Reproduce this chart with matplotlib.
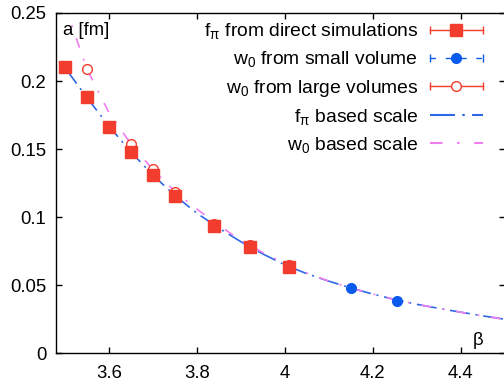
import matplotlib
matplotlib.use("Agg")
import matplotlib.pyplot as plt
from matplotlib.legend_handler import HandlerBase
from matplotlib.lines import Line2D

plt.rcParams["font.family"] = ["Liberation Sans", "DejaVu Sans"]
plt.rcParams["font.size"] = 13.3
plt.rcParams["mathtext.fontset"] = "custom"
plt.rcParams["mathtext.rm"] = "Liberation Sans"
plt.rcParams["mathtext.it"] = "Liberation Sans:italic"

# data
beta_fpi = [3.5, 3.55, 3.6, 3.65, 3.7, 3.75, 3.84, 3.92, 4.01]
a_fpi = [0.2104, 0.1884, 0.1664, 0.148, 0.1309, 0.1157, 0.0935, 0.0778, 0.0631]

beta_w0_small = [4.15, 4.255]
a_w0_small = [0.0478, 0.0386]

beta_w0_large = [3.55, 3.65, 3.7, 3.75, 3.84, 3.92, 4.01]
a_w0_large = [0.2088, 0.1537, 0.1353, 0.1186, 0.0952, 0.0794, 0.0649]
err_w0_large = [0.0008, 0.0008, 0.0008, 0.0008, 0.0008, 0.0008, 0.0008]

beta_curve = [3.5, 3.55, 3.6, 3.65, 3.7, 3.75, 3.8, 3.85, 3.9, 3.95, 4.0,
              4.05, 4.1, 4.15, 4.2, 4.25, 4.3, 4.35, 4.4, 4.45, 4.5]
a_fpi_curve = [0.210, 0.188, 0.167, 0.148, 0.131, 0.116, 0.103, 0.092, 0.082, 0.073, 0.065,
               0.0585, 0.053, 0.048, 0.0435, 0.0395, 0.036, 0.033, 0.0302, 0.0275, 0.025]
a_w0_curve = [0.256, 0.209, 0.177, 0.154, 0.135, 0.119, 0.106, 0.094, 0.083, 0.074, 0.066,
              0.059, 0.053, 0.048, 0.0435, 0.0395, 0.036, 0.033, 0.0302, 0.0275, 0.025]

x_ticks = [3.6, 3.8, 4.0, 4.2, 4.4]
x_tick_labels = ["3.6", "3.8", "4", "4.2", "4.4"]
y_ticks = [0, 0.05, 0.1, 0.15, 0.2, 0.25]
y_tick_labels = ["0", "0.05", "0.1", "0.15", "0.2", "0.25"]

RED = "#f23c2d"
BLUE = "#0a5aeb"
BLUE_LINE = "#2f68e6"
PINK = "#f07ef0"

DASH_DOT_BLUE = (0, (12, 3.5, 1.2, 3.5))
DASH_DOT_PINK = (0, (6, 7, 1.2, 7))


class GnuErrorKey(HandlerBase):
    # gnuplot-like key: horizontal bar with caps and marker in the middle
    def __init__(self, ls="-", **kw):
        super().__init__(**kw)
        self.ls = ls

    def create_artists(self, legend, orig_handle, xdescent, ydescent, width, height, fontsize, trans):
        y = height / 2 - ydescent
        x0, x1 = -xdescent, width - xdescent
        c = orig_handle.get_markeredgecolor()
        bar = Line2D([x0, x1], [y, y], color=c, lw=1, ls=self.ls)
        caps = Line2D([x0, x1], [y, y], ls="none", marker="|", ms=6, mew=1, color=c)
        mk = Line2D([(x0 + x1) / 2], [y], ls="none", marker=orig_handle.get_marker(),
                    ms=orig_handle.get_markersize(), mfc=orig_handle.get_markerfacecolor(),
                    mec=c, mew=orig_handle.get_markeredgewidth())
        for a in (bar, caps, mk):
            a.set_transform(trans)
        return [bar, caps, mk]


fig = plt.figure(figsize=(5.04, 3.88), dpi=100)
ax = fig.add_axes([0.1111, 0.0894, 0.8905, 0.8771])

ax.plot(beta_curve, a_fpi_curve, color=BLUE_LINE, lw=1.2, ls=DASH_DOT_BLUE, zorder=2)
ax.plot(beta_curve, a_w0_curve, color=PINK, lw=1.2, ls=DASH_DOT_PINK, zorder=2)

ax.errorbar(beta_w0_large, a_w0_large, yerr=err_w0_large, fmt="o", ms=7, mfc="white",
            mec=RED, mew=1, ecolor=RED, elinewidth=1, capsize=3, capthick=1, zorder=3)
ax.plot(beta_fpi, a_fpi, ls="none", marker="s", ms=8, color=RED, mec=RED, zorder=4)
ax.plot(beta_w0_small, a_w0_small, ls="none", marker="o", ms=7, color=BLUE, mec=BLUE, zorder=4)

ax.set_xlim(3.48, 4.5)
ax.set_ylim(0, 0.25)
ax.set_xticks(x_ticks)
ax.set_xticklabels(x_tick_labels)
ax.set_yticks(y_ticks)
ax.set_yticklabels(y_tick_labels)
ax.tick_params(direction="in", top=True, right=True, length=4.5, width=1)
ax.tick_params(axis="x", pad=8.5)
ax.tick_params(axis="y", pad=7)
for sp in ax.spines.values():
    sp.set_linewidth(1)

ax.text(0.015, 0.95, "a [fm]", transform=ax.transAxes, ha="left", va="center")
ax.text(0.94, 0.038, "\u03b2", transform=ax.transAxes, ha="center", va="center")

h_fpi = Line2D([], [], marker="s", ms=8, mfc=RED, mec=RED, mew=1)
h_small = Line2D([], [], marker="o", ms=7, mfc=BLUE, mec=BLUE, mew=1)
h_large = Line2D([], [], marker="o", ms=7, mfc="white", mec=RED, mew=1)
h_fpi_line = Line2D([], [], color=BLUE_LINE, lw=1.5, ls=DASH_DOT_BLUE)
h_w0_line = Line2D([], [], color=PINK, lw=1.5, ls=DASH_DOT_PINK)

leg = ax.legend(
    [h_fpi, h_small, h_large, h_fpi_line, h_w0_line],
    ["f$_{\\mathrm{\\pi}}$ from direct simulations", "w$_0$ from small volume",
     "w$_0$ from large volumes", "f$_{\\mathrm{\\pi}}$ based scale", "w$_0$ based scale"],
    handler_map={h_fpi: GnuErrorKey(), h_small: GnuErrorKey(ls=(0, (4, 7))), h_large: GnuErrorKey()},
    loc="upper right", bbox_to_anchor=(483 / 504, 0.945), bbox_transform=fig.transFigure,
    markerfirst=False, frameon=False, handlelength=2.75, handletextpad=0.6,
    labelspacing=0.42, borderpad=0, borderaxespad=0, fontsize=13.9,
)

fig.savefig("out.png", dpi=100)
